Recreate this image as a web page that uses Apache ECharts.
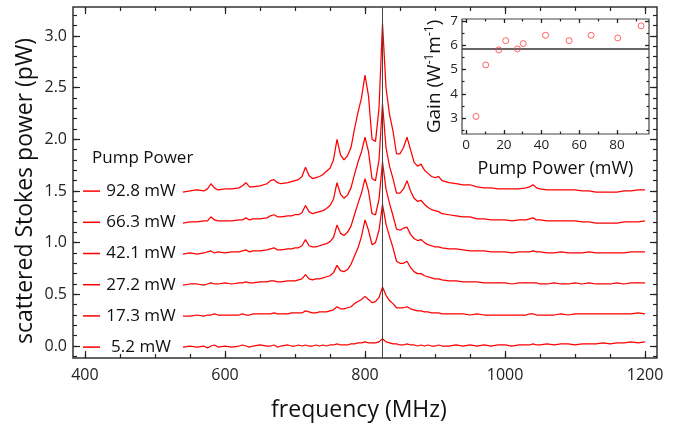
<!DOCTYPE html>
<html><head><meta charset="utf-8">
<script src="https://cdn.jsdelivr.net/npm/echarts@6/dist/echarts.min.js"></script>
<style>html,body{margin:0;padding:0;background:#fff}#c{width:685px;height:426px}</style>
</head><body><div id="c"></div>
<script>
// ---------- data ----------
const freq = [540,550,560,570,575,580,585,590,600,610,620,625,630,635,640,650,660,665,670,675,680,690,695,700,705,710,715,720,725,730,735,740,745,750,755,760,765,770,775,780,785,790,795,800,805,810,815,820,825,830,835,840,845,850,855,860,865,870,875,880,885,890,895,900,905,910,920,930,940,950,960,970,980,990,1000,1010,1020,1030,1035,1040,1045,1050,1060,1070,1080,1090,1100,1110,1120,1130,1140,1150,1160,1170,1180,1190,1200];
const pumpNames = ['92.8 mW','66.3 mW','42.1 mW','27.2 mW','17.3 mW','5.2 mW'];
const p928 = [1.49,1.50,1.51,1.50,1.52,1.57,1.53,1.51,1.52,1.52,1.53,1.55,1.58,1.54,1.54,1.55,1.57,1.60,1.61,1.58,1.57,1.58,1.59,1.60,1.61,1.64,1.73,1.65,1.62,1.63,1.64,1.66,1.69,1.72,1.80,2.00,1.85,1.80,1.84,1.92,2.10,2.26,2.40,2.62,2.42,2.00,1.98,2.30,3.12,2.50,2.24,2.08,1.86,1.86,1.92,2.02,1.90,1.78,1.74,1.76,1.70,1.67,1.64,1.63,1.64,1.60,1.58,1.57,1.56,1.56,1.54,1.53,1.53,1.52,1.52,1.52,1.52,1.53,1.54,1.56,1.53,1.52,1.51,1.51,1.51,1.51,1.51,1.50,1.50,1.49,1.49,1.49,1.49,1.50,1.50,1.51,1.51];
const p663 = [1.19,1.20,1.20,1.21,1.21,1.25,1.22,1.21,1.21,1.21,1.22,1.22,1.24,1.22,1.23,1.23,1.24,1.26,1.27,1.25,1.25,1.26,1.26,1.27,1.27,1.29,1.36,1.30,1.28,1.29,1.30,1.31,1.33,1.36,1.42,1.58,1.47,1.43,1.46,1.53,1.66,1.78,1.88,2.02,1.88,1.62,1.60,1.80,2.34,1.92,1.74,1.62,1.48,1.48,1.52,1.60,1.50,1.43,1.40,1.41,1.37,1.34,1.32,1.31,1.30,1.28,1.27,1.26,1.25,1.25,1.23,1.23,1.22,1.22,1.22,1.21,1.22,1.22,1.23,1.24,1.22,1.22,1.21,1.21,1.21,1.21,1.21,1.20,1.20,1.19,1.19,1.19,1.19,1.20,1.20,1.20,1.21];
const p421 = [0.89,0.90,0.89,0.90,0.91,0.92,0.90,0.91,0.90,0.91,0.91,0.92,0.93,0.91,0.92,0.92,0.93,0.94,0.95,0.93,0.93,0.94,0.94,0.95,0.95,0.97,1.03,0.97,0.96,0.96,0.97,0.98,0.99,1.01,1.05,1.17,1.09,1.07,1.10,1.16,1.27,1.38,1.48,1.62,1.50,1.28,1.27,1.42,1.78,1.52,1.38,1.26,1.13,1.12,1.14,1.15,1.08,1.04,1.02,1.03,1.00,0.98,0.97,0.96,0.96,0.95,0.94,0.94,0.93,0.92,0.92,0.92,0.91,0.91,0.91,0.90,0.91,0.91,0.91,0.92,0.91,0.91,0.90,0.90,0.91,0.90,0.90,0.90,0.91,0.90,0.90,0.90,0.90,0.90,0.91,0.91,0.91];
const p272 = [0.59,0.60,0.60,0.59,0.60,0.61,0.60,0.60,0.61,0.60,0.61,0.61,0.62,0.61,0.61,0.62,0.62,0.63,0.63,0.62,0.62,0.63,0.63,0.63,0.64,0.65,0.69,0.65,0.64,0.65,0.65,0.66,0.67,0.68,0.71,0.78,0.73,0.72,0.74,0.79,0.87,0.95,1.06,1.22,1.12,0.98,1.00,1.12,1.37,1.18,1.06,0.95,0.82,0.80,0.80,0.82,0.76,0.72,0.70,0.70,0.68,0.67,0.66,0.65,0.65,0.64,0.63,0.63,0.62,0.62,0.62,0.61,0.61,0.61,0.61,0.60,0.61,0.61,0.61,0.61,0.61,0.60,0.60,0.61,0.60,0.60,0.61,0.60,0.61,0.60,0.60,0.60,0.61,0.60,0.61,0.61,0.61];
const p173 = [0.29,0.29,0.30,0.29,0.30,0.30,0.31,0.30,0.30,0.30,0.30,0.31,0.30,0.30,0.31,0.31,0.31,0.31,0.32,0.31,0.31,0.31,0.32,0.32,0.32,0.32,0.34,0.33,0.32,0.32,0.33,0.33,0.33,0.34,0.35,0.38,0.36,0.36,0.37,0.38,0.41,0.43,0.45,0.48,0.45,0.42,0.43,0.47,0.57,0.49,0.44,0.41,0.37,0.37,0.37,0.38,0.36,0.35,0.34,0.34,0.33,0.33,0.32,0.32,0.32,0.31,0.31,0.31,0.31,0.30,0.31,0.30,0.30,0.30,0.30,0.30,0.30,0.30,0.31,0.31,0.30,0.30,0.30,0.30,0.31,0.30,0.31,0.31,0.31,0.31,0.31,0.31,0.31,0.31,0.31,0.32,0.31];
const p052 = [-0.01,0.00,-0.01,0.00,-0.02,0.00,0.01,-0.01,0.00,-0.01,0.00,0.01,0.00,-0.01,0.00,0.01,0.00,0.00,0.01,-0.01,0.00,0.01,0.00,0.00,0.01,0.00,0.01,0.00,0.00,0.01,0.00,0.01,0.00,0.01,0.01,0.02,0.01,0.01,0.01,0.02,0.02,0.03,0.03,0.04,0.03,0.03,0.03,0.04,0.07,0.04,0.03,0.02,0.02,0.01,0.01,0.02,0.01,0.01,0.00,0.01,0.00,0.01,0.00,0.00,0.01,0.00,0.00,0.01,0.00,0.01,0.00,0.01,0.00,0.01,0.01,0.00,0.01,0.01,0.01,0.02,0.01,0.01,0.02,0.01,0.02,0.02,0.01,0.02,0.02,0.02,0.03,0.02,0.03,0.03,0.04,0.03,0.04];
const traces = [p928, p663, p421, p272, p173, p052];
const markFreq = 825;

const insetPower = [5.2, 10.4, 17.3, 21.0, 27.2, 30.3, 42.1, 54.6, 66.3, 80.4, 92.8];
const insetGain  = [3.07, 5.19, 5.81, 6.19, 5.85, 6.07, 6.41, 6.19, 6.41, 6.30, 6.80];
const gainMean = 5.85;

const xMajor = [400, 600, 800, 1000, 1200];
const xMinor = [400,450,500,550,600,650,700,750,800,850,900,950,1000,1050,1100,1150,1200];
const yMajor = [0, 0.5, 1.0, 1.5, 2.0, 2.5, 3.0];
const yMinor = [-0.1,0,0.1,0.2,0.3,0.4,0.5,0.6,0.7,0.8,0.9,1.0,1.1,1.2,1.3,1.4,1.5,1.6,1.7,1.8,1.9,2.0,2.1,2.2,2.3,2.4,2.5,2.6,2.7,2.8,2.9,3.0,3.1,3.2];
const inXMajor = [0, 20, 40, 60, 80];
const inXMinor = [0,10,20,30,40,50,60,70,80,90];
const inYMajor = [3, 4, 5, 6, 7];
const inYMinor = [2.5,3,3.5,4,4.5,5,5.5,6,6.5,7];

// ---------- layout ----------
const FONT = 'Open Sans';
const AX = '#222';
const X0 = [383, 1217], Y0 = [-0.116, 3.28];
const X1 = [-2.2, 97], Y1 = [2.35, 7.08];

function tickAxis(gridIndex, position, ext, vals, len, extra) {
  return Object.assign({
    type: 'value', gridIndex, position, min: ext[0], max: ext[1],
    axisLine: {show: false, onZero: false}, splitLine: {show: false},
    axisTick: {show: true, inside: true, length: len, customValues: vals, lineStyle: {color: AX, width: 1.2}},
    axisLabel: {show: false}, z: 6
  }, extra || {});
}

const xAxis = [
  tickAxis(0, 'bottom', X0, xMajor, 7, {
    axisLabel: {show: true, customValues: xMajor, margin: 9, fontFamily: FONT, fontSize: 16, color: AX,
      formatter: v => String(v)}
  }),
  tickAxis(0, 'bottom', X0, xMinor, 4),
  tickAxis(0, 'top', X0, xMajor, 7),
  tickAxis(0, 'top', X0, xMinor, 4),
  tickAxis(1, 'bottom', X1, inXMajor, 4, {
    axisLabel: {show: true, customValues: inXMajor, margin: 4, fontFamily: FONT, fontSize: 13.5, color: AX,
      formatter: v => String(v)},
    name: 'Pump Power (mW)', nameLocation: 'middle', nameGap: 26,
    nameTextStyle: {fontFamily: FONT, fontSize: 18, color: '#111'}
  }),
  tickAxis(1, 'bottom', X1, inXMinor, 2.5),
  tickAxis(1, 'top', X1, inXMajor, 4),
  tickAxis(1, 'top', X1, inXMinor, 2.5)
];
const yAxis = [
  tickAxis(0, 'left', Y0, yMajor, 7, {
    axisLabel: {show: true, customValues: yMajor, margin: 6, fontFamily: FONT, fontSize: 16, color: AX,
      formatter: v => v.toFixed(1)}
  }),
  tickAxis(0, 'left', Y0, yMinor, 4),
  tickAxis(0, 'right', Y0, yMajor, 7),
  tickAxis(0, 'right', Y0, yMinor, 4),
  tickAxis(1, 'left', Y1, inYMajor, 4, {
    axisLabel: {show: true, customValues: inYMajor, margin: 4, fontFamily: FONT, fontSize: 13.5, color: AX},
    name: 'Gain (W{s|-1}m{s|-1})', nameLocation: 'middle', nameGap: 17,
    nameTextStyle: {fontFamily: FONT, fontSize: 19, color: '#111',
      rich: {s: {fontFamily: FONT, fontSize: 12, color: '#111', verticalAlign: 'top', padding: [0,0,9,0]}}}
  }),
  tickAxis(1, 'left', Y1, inYMinor, 2.5),
  tickAxis(1, 'right', Y1, inYMajor, 4),
  tickAxis(1, 'right', Y1, inYMinor, 2.5)
];

const series = traces.map((arr, k) => {
  const s = {
    name: pumpNames[k], type: 'line', xAxisIndex: 0, yAxisIndex: 0,
    data: freq.map((f, i) => [f, arr[i]]),
    symbol: 'none', showSymbol: false, smooth: false,
    lineStyle: {color: '#ff0000', width: 1.25}, itemStyle: {color: '#ff0000'},
    silent: true, animation: false, z: 3
  };
  if (k === 0) {
    s.markLine = {
      silent: true, symbol: ['none', 'none'], label: {show: false}, animation: false,
      lineStyle: {color: '#444', width: 1, type: 'solid'},
      data: [{xAxis: markFreq}]
    };
  }
  return s;
});
series.push({
  name: 'gain', type: 'scatter', xAxisIndex: 4, yAxisIndex: 4,
  data: insetPower.map((p, i) => [p, insetGain[i]]),
  symbol: 'circle', symbolSize: 6,
  itemStyle: {color: 'rgba(255,255,255,0)', borderColor: '#ff4040', borderWidth: 1},
  silent: true, animation: false, z: 5,
  markLine: {
    silent: true, symbol: ['none', 'none'], label: {show: false}, animation: false,
    lineStyle: {color: '#333', width: 1.5, type: 'solid'},
    data: [{yAxis: gainMean}]
  }
});

const option = {
  backgroundColor: '#fff',
  animation: false,
  grid: [
    {left: 73, top: 7, width: 584, height: 351, show: true, borderColor: '#333', borderWidth: 1.5, backgroundColor: 'transparent'},
    {left: 462, top: 19, width: 187, height: 115, show: true, borderColor: '#444', borderWidth: 1.2, backgroundColor: '#fff', z: 4}
  ],
  xAxis, yAxis, series,
  legend: {
    data: pumpNames, orient: 'vertical', left: 83, top: 182.6, padding: 0,
    icon: 'rect', itemWidth: 17, itemHeight: 1.5, itemGap: 14.2,
    selectedMode: false,
    formatter: '{c|{name}}',
    textStyle: {rich: {c: {width: 72, align: 'center', fontFamily: FONT, fontSize: 17, lineHeight: 14, color: '#111'}}}
  },
  graphic: [
    {type: 'text', left: 92, top: 150, style: {text: 'Pump Power', font: '17px "Open Sans"', fill: '#111'}},
    {type: 'text', x: 25, y: 191, rotation: Math.PI / 2,
      style: {text: 'scattered Stokes power (pW)', font: '23px "Open Sans"', fill: '#111', align: 'center', verticalAlign: 'middle'}},
    {type: 'text', x: 359, y: 410,
      style: {text: 'frequency (MHz)', font: '23px "Open Sans"', fill: '#111', align: 'center', verticalAlign: 'middle'}}
  ]
};
const chart = echarts.init(document.getElementById('c'), null, {renderer: 'canvas'});
chart.setOption(option);
</script></body></html>
